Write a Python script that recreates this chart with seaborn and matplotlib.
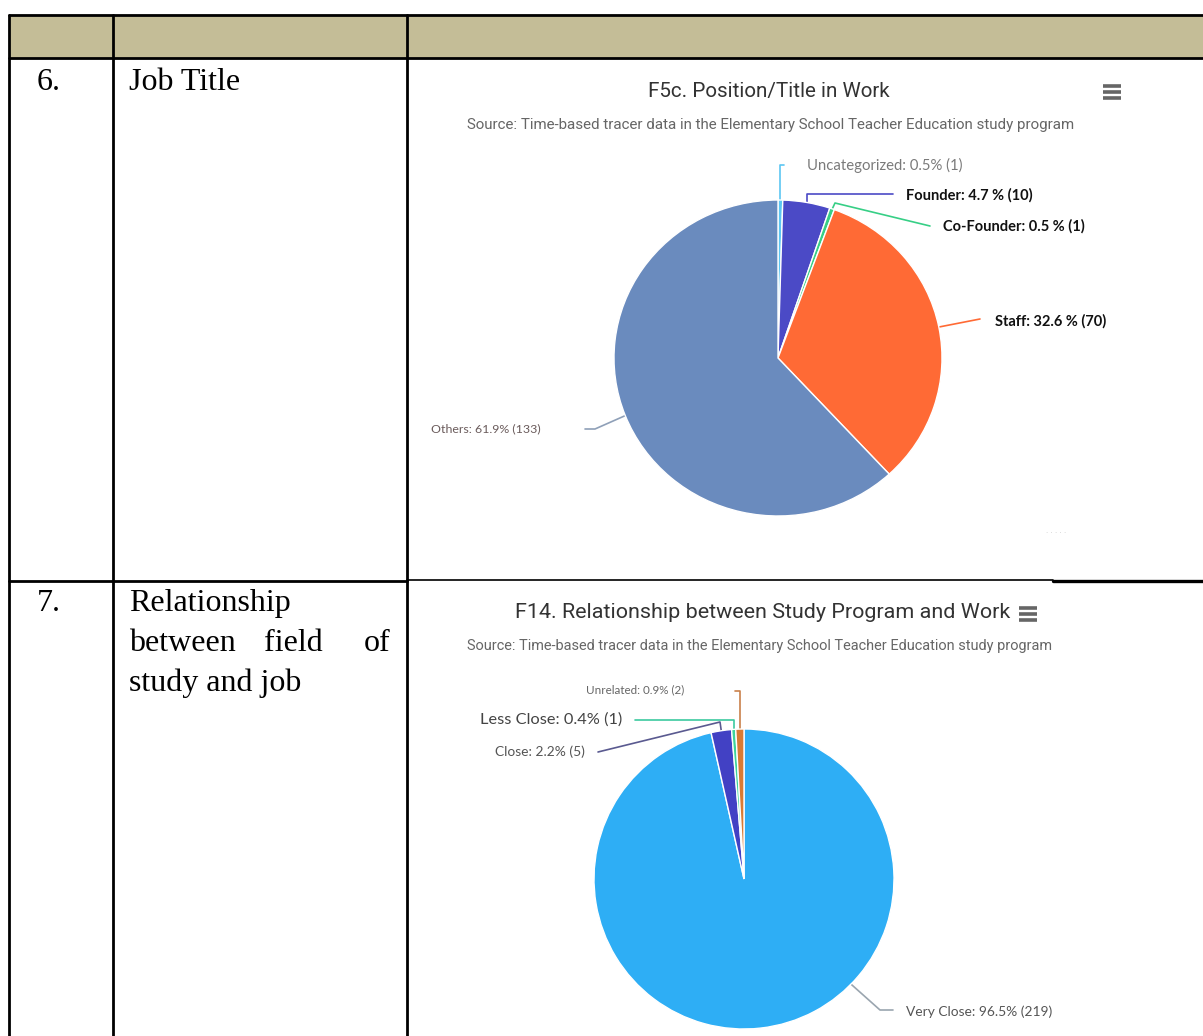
import numpy as np
import matplotlib
matplotlib.use("Agg")
import matplotlib.pyplot as plt
import seaborn as sns

sns.set_theme(style="white")
plt.rcParams['font.family'] = ['DejaVu Sans']

# ---------------- data ----------------
table_numbers = ["6.", "7."]
row6_label = ["Job Title"]
row7_label = ["Relationship", "between field of", "study and job"]

pie1_title = "F5c. Position/Title in Work"
pie2_title = "F14. Relationship between Study Program and Work"
source_text = "Source: Time-based tracer data in the Elementary School Teacher Education study program"

pie1_categories = ["Uncategorized", "Founder", "Co-Founder", "Staff", "Others"]
pie1_counts = [1, 10, 1, 70, 133]
pie1_pct_text = ["0.5%", "4.7 %", "0.5 %", "32.6 %", "61.9%"]
pie1_colors = ["#5CC6F2", "#4B4AC6", "#37CF86", "#FF6A35", "#6A8BBE"]

pie2_categories = ["Very Close", "Close", "Less Close", "Unrelated"]
pie2_counts = [219, 5, 1, 2]
pie2_pct_text = ["96.5%", "2.2%", "0.4%", "0.9%"]
pie2_colors = ["#2EAEF5", "#4241C4", "#3CD49C", "#D97A33"]

# ---------------- figure ----------------
W, H = 1203, 1036
fig = plt.figure(figsize=(W / 100, H / 100), dpi=100)
bg = fig.add_axes([0, 0, 1, 1])
bg.set_xlim(0, W)
bg.set_ylim(H, 0)
bg.axis("off")
renderer = fig.canvas.get_renderer()


def fit_text(x, y, s, width, size=10, **kw):
    t = bg.text(x, y, s, fontsize=size, **kw)
    w = t.get_window_extent(renderer=renderer).width
    if w > 0:
        t.set_fontsize(size * width / w)
    return t

# table
tan = "#C4BD97"
bg.fill_between([9, W], 15, 57, color=tan, zorder=0)
lw = 2.0
bg.plot([9, W], [15, 15], color="black", lw=lw)
bg.plot([9, W], [58, 58], color="black", lw=lw)
bg.plot([9, 407], [581, 581], color="black", lw=lw)
bg.plot([407, 1053], [580, 580], color="black", lw=1.2)
bg.plot([1053, W], [581, 581], color="black", lw=2.4)
for xv in [9, 113, 407]:
    bg.plot([xv, xv], [15, H], color="black", lw=lw)

fs = 23
serif = dict(family="Liberation Serif", color="black", va="baseline")
bg.text(37, 90, table_numbers[0], fontsize=fs, **serif)
bg.text(129, 90, row6_label[0], fontsize=fs, **serif)
bg.text(37, 611, table_numbers[1], fontsize=fs, **serif)
bg.text(129, 611, row7_label[0], fontsize=fs, **serif)
w1, w2, w3 = row7_label[1].split()
bg.text(129, 651, w1, fontsize=fs, **serif)
bg.text(264, 651, w2, fontsize=fs, **serif)
bg.text(364, 651, w3, fontsize=fs, **serif)
bg.text(129, 691, row7_label[2], fontsize=fs, **serif)


def hamburger(cx, cy):
    for dy in (-6, 0, 6):
        bg.plot([cx - 9, cx + 9], [cy + dy, cy + dy], color="#666666", lw=2.6,
                solid_capstyle="butt")


# ---------------- chart 1 ----------------
fit_text(648, 91, pie1_title, 242, family="Roboto", color="#333333", va="center")
hamburger(1112, 92)
fit_text(467, 125, source_text, 610, family="Roboto", color="#666666", va="center")


def draw_pie(counts, colors, cx, cy, rx, ry):
    ax = fig.add_axes([(cx - rx) / W, 1 - (cy + ry) / H, 2 * rx / W, 2 * ry / H])
    ax.pie(counts, colors=colors, startangle=90, counterclock=False,
           wedgeprops=dict(edgecolor="white", linewidth=1.0), radius=1.0)
    ax.set_xlim(-1, 1)
    ax.set_ylim(-1, 1)
    ax.set_aspect("auto")
    ax.axis("off")
    fr = np.cumsum([0] + list(counts)) / np.sum(counts)
    mids = 90 - 360 * (fr[:-1] + fr[1:]) / 2
    return mids


def edge_point(cx, cy, rx, ry, ang):
    a = np.deg2rad(ang)
    return cx + rx * np.cos(a), cy - ry * np.sin(a)


c1x, c1y, r1x, r1y = 778, 358, 164, 158
mids1 = draw_pie(pie1_counts, pie1_colors, c1x, c1y, r1x, r1y)

labels1 = [f"{c}: {p} ({n})" for c, p, n in zip(pie1_categories, pie1_pct_text, pie1_counts)]
conn1 = [
    dict(path=[(780, 165), (784, 165)], lx=807, ly=165, bold=False, tc="#7A7A7A", w=156),
    dict(path=[(807, 194), (893, 194)], lx=906, ly=195, bold=True, tc="#111111", w=127),
    dict(path=[(835, 203), (930, 226)], lx=943, ly=226, bold=True, tc="#111111", w=142),
    dict(path=[(980, 319)], lx=995, ly=321, bold=True, tc="#111111", w=112),
    dict(path=[(595, 429), (585, 429)], lx=431, ly=429, bold=False, tc="#6B5C5C", w=110),
]
for i, (lab, cfg) in enumerate(zip(labels1, conn1)):
    ax_, ay_ = edge_point(c1x, c1y, r1x - 2, r1y - 2, mids1[i])
    if i == 1:
        ax_, ay_ = 807, 203
    xs = [ax_] + [p[0] for p in cfg["path"]]
    ys = [ay_] + [p[1] for p in cfg["path"]]
    if i == 0:
        xs = [ax_, ax_, 784]
        ys = [ay_, 165, 165]
    bg.plot(xs, ys, color=pie1_colors[i] if i != 4 else "#8FA0B8", lw=1.2, zorder=5)
    fit_text(cfg["lx"], cfg["ly"], lab, cfg["w"], family="Lato",
             fontweight="bold" if cfg["bold"] else "normal", color=cfg["tc"], va="center")

bg.text(1046, 533, "· · · · ·", fontsize=5, color="#CCCCCC", va="center")

# ---------------- chart 2 ----------------
fit_text(515, 613, pie2_title, 495, family="Roboto", color="#333333", va="center")
hamburger(1028, 614)
fit_text(467, 646, source_text, 586, family="Roboto", color="#666666", va="center")

c2x, c2y, r2 = 744, 879, 150
mids2 = draw_pie(pie2_counts, pie2_colors, c2x, c2y, r2, r2)
labels2 = [f"{c}: {p} ({n})" for c, p, n in zip(pie2_categories, pie2_pct_text, pie2_counts)]

# Very Close
vx, vy = edge_point(c2x, c2y, r2, r2, -44.5)
bg.plot([vx, 880, 893], [vy, 1010, 1010], color="#9AA5AF", lw=1.2, zorder=5)
fit_text(906, 1012, labels2[0], 146, family="Lato", color="#555555", va="center")
# Close
cx_, cy_ = edge_point(c2x, c2y, r2, r2, mids2[1])
bg.plot([cx_, 720, 598], [cy_, 722, 752], color="#5A5A90", lw=1.2, zorder=5)
fit_text(495, 752, labels2[1], 90, family="Lato", color="#555555", va="center")
# Less Close
lx_, ly_ = edge_point(c2x, c2y, r2, r2, mids2[2])
bg.plot([lx_, lx_, 635], [ly_, 720, 720], color="#3CC9A0", lw=1.2, zorder=5)
fit_text(480, 720, labels2[2], 142, family="Lato", color="#444444", va="center")
# Unrelated
ux_, uy_ = edge_point(c2x, c2y, r2, r2, mids2[3])
bg.plot([ux_, ux_, 735], [uy_, 691, 691], color="#C9804A", lw=1.2, zorder=5)
fit_text(586, 690, labels2[3], 98, family="Lato", color="#666666", va="center")

fig.savefig("out.png", dpi=100)
